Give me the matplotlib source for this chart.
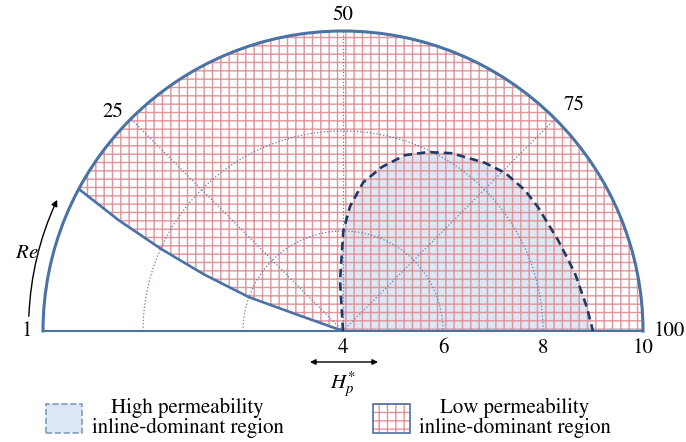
import numpy as np
import matplotlib
matplotlib.use('agg')
import matplotlib.pyplot as plt
from matplotlib.patches import Patch
from matplotlib.legend_handler import HandlerTuple

# Re runs along the angle (1 on the left, 100 on the right), H_p* along the radius
re_ticks = [1, 25, 50, 75, 100]
re_grid = [25, 50, 75]
hp_ticks = [4, 6, 8, 10]
hp_rings = [6, 8]

# edge of the white wedge (no inline-dominant region)
wedge_hp = [4.0, 5.0, 6.0, 7.0, 8.0, 9.0, 10.0]
wedge_re = [10.8, 10.9, 11.0, 12.3, 13.5, 14.6, 15.7]

# dashed edge of the high permeability region
high_hp = [4.0, 5.0, 6.0, 6.5, 7.0, 7.37, 7.73, 7.96, 8.17, 8.4, 8.53,
           8.6, 8.62, 8.67, 8.78, 8.9, 9.0]
high_re = [48.5, 48.1, 50.1, 51.8, 54.3, 57.4, 60.8, 64.1, 67.5, 72.3, 75.4,
           79.0, 81.9, 87.3, 92.2, 96.9, 100.0]

legend_labels = ['High permeability\ninline-dominant region',
                 'Low permeability\ninline-dominant region']

BLUE = '#4a72a5'
GRID = '#5b7fae'
NAVY = '#1f3864'
LIGHT = '#dde7f3'
PINK = '#e0959b'


def th(re):
    # Re 0..100 -> 0..180 degrees, measured clockwise from the left
    return np.deg2rad(np.asarray(re, dtype=float) * 1.8)


def main():
    plt.rcParams['font.family'] = ['STIXGeneral', 'DejaVu Serif']
    plt.rcParams['mathtext.fontset'] = 'stix'
    plt.rcParams['hatch.linewidth'] = 1.0

    fig = plt.figure(figsize=(6.86, 4.42), dpi=100)
    ax = fig.add_axes([43 / 686, -39 / 442, 600 / 686, 600 / 442],
                      projection='polar')
    ax.set_theta_zero_location('W')
    ax.set_theta_direction(-1)
    ax.set_thetalim(0, np.pi)
    ax.set_rlim(4, 10)

    # grid
    ax.set_thetagrids([r * 1.8 for r in re_grid], ['' for _ in re_grid])
    ax.set_rgrids(hp_rings, labels=['' for _ in hp_rings])
    ax.grid(True, linestyle=':', color=GRID, linewidth=0.9)

    for name in ['start', 'end']:
        ax.spines[name].set_color(BLUE)
        ax.spines[name].set_linewidth(1.5)
    ax.spines['polar'].set_color(BLUE)
    ax.spines['polar'].set_linewidth(2.2)
    ax.spines['inner'].set_visible(False)

    # Re labels round the rim
    offsets = [(-11.5, 0), (-13, 5), (0, 11.5), (14, 10), (19, 0)]
    for re, off in zip(re_ticks, offsets):
        ax.annotate(str(re), xy=(th(0 if re == 1 else re), 10), xytext=off,
                    textcoords='offset points', ha='center', va='center',
                    fontsize=15, annotation_clip=False)

    # high permeability region
    ax.fill(th(high_re + [100]), high_hp + [4], facecolor=LIGHT,
            edgecolor='none', lw=0, zorder=1)

    # low permeability region (hatched), everything right of the wedge edge
    arc_re = np.linspace(wedge_re[-1], 100, 200)
    pink_t = np.concatenate([th(wedge_re), th(arc_re), th([100])])
    pink_r = np.concatenate([wedge_hp, np.full(arc_re.size, 10.0), [4.0]])
    ax.fill(pink_t, pink_r, facecolor='none', edgecolor=PINK, hatch='++',
            lw=0, zorder=1.2)

    ax.plot(th(wedge_re), wedge_hp, color=BLUE, lw=1.9, zorder=3)
    ax.plot(th(high_re), high_hp, color=NAVY, lw=1.9,
            linestyle=(0, (3.2, 1.9)), zorder=3)

    # radial labels under the right half
    for h in hp_ticks:
        ax.annotate(str(h), xy=(th(100), h), xytext=(0, -5),
                    textcoords='offset points', ha='center', va='top',
                    fontsize=15)

    # Re arrow on the left
    ax.annotate('', xy=(th(13.7), 10.29), xytext=(th(1.5), 10.29),
                annotation_clip=False,
                arrowprops=dict(arrowstyle='-|>', color='black', lw=1.0,
                                mutation_scale=9, shrinkA=0, shrinkB=0,
                                connectionstyle='arc3,rad=-0.1'))
    ax.text(th(7.7), 10.52, '$Re$', ha='center', va='center', fontsize=15)

    # H_p* double arrow
    ax.annotate('', xy=(378 / 686, 80 / 442), xytext=(310 / 686, 80 / 442),
                xycoords='figure fraction', textcoords='figure fraction',
                arrowprops=dict(arrowstyle='<|-|>', color='black', lw=1.0,
                                mutation_scale=8, shrinkA=0, shrinkB=0))
    fig.text(343 / 686, 57 / 442, '$H_p^{*}$', ha='center', va='center',
             fontsize=15)

    # legend
    high = Patch(facecolor=LIGHT, edgecolor='#7f9cc4', linestyle='--', lw=1.2)
    low_fill = Patch(facecolor='white', edgecolor=PINK, hatch='++', lw=0)
    low_edge = Patch(facecolor='none', edgecolor=BLUE, lw=1.2)
    leg = fig.legend([high, (low_fill, low_edge)], legend_labels,
                     loc='upper left', bbox_to_anchor=(46 / 686, 44 / 442),
                     ncol=2, frameon=False, fontsize=15, handlelength=1.75,
                     handleheight=1.7, handletextpad=0.45, columnspacing=4.3,
                     handler_map={tuple: HandlerTuple(ndivide=1, pad=0)},
                     borderaxespad=0, borderpad=0)
    for t in leg.get_texts():
        t.set_multialignment('center')
        t.set_linespacing(0.95)

    plt.savefig('out.png', dpi=100)


if __name__ == '__main__':
    main()
